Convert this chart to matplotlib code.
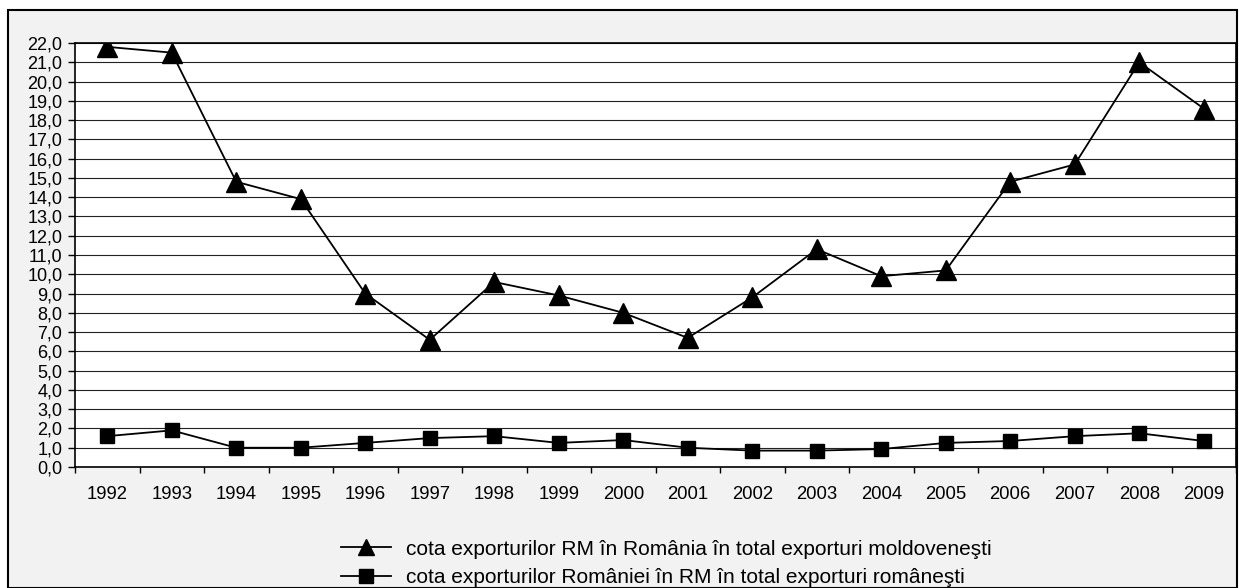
# -*- coding: utf-8 -*-
import matplotlib.pyplot as plt
from matplotlib.patches import Rectangle
from matplotlib.ticker import FuncFormatter
import numpy as np

ani = ['1992', '1993', '1994', '1995', '1996', '1997', '1998', '1999', '2000',
       '2001', '2002', '2003', '2004', '2005', '2006', '2007', '2008', '2009']
cota_rm = [21.8, 21.5, 14.8, 13.9, 9.0, 6.6, 9.6, 8.9, 8.0,
           6.7, 8.8, 11.3, 9.9, 10.2, 14.8, 15.7, 21.0, 18.6]
cota_ro = [1.6, 1.9, 1.0, 1.0, 1.25, 1.5, 1.6, 1.25, 1.4,
           1.0, 0.85, 0.85, 0.93, 1.25, 1.35, 1.6, 1.75, 1.35]
eticheta_rm = u'cota exporturilor RM în România în total exporturi moldoveneşti'
eticheta_ro = u'cota exporturilor României în RM în total exporturi româneşti'

plt.rcParams['font.family'] = ['Liberation Sans', 'DejaVu Sans']

W, H = 1239, 588
fig = plt.figure(figsize=(W / 100., H / 100.), dpi=100)
fig.patch.set_facecolor('white')

# fundal gri cu chenar
fig.patches.append(Rectangle((8. / W, 0), 1229. / W, 1 - 10. / H, transform=fig.transFigure,
                             facecolor='#f2f2f2', edgecolor='black', linewidth=1.5, zorder=-5))

ax = fig.add_axes([75. / W, 1 - 467. / H, 1161. / W, 424. / H])
ax.set_facecolor('white')

x = np.arange(len(ani))
l1, = ax.plot(x, cota_rm, c='black', lw=1.3, marker='^', markersize=14, label=eticheta_rm)
l2, = ax.plot(x, cota_ro, c='black', lw=1.3, marker='s', markersize=10.5, label=eticheta_ro)

ax.set_xlim(-0.5, len(ani) - 0.5)
ax.set_ylim(0, 22)
ax.set_yticks(np.arange(0, 23, 1))
ax.yaxis.set_major_formatter(FuncFormatter(lambda v, p: ('%.1f' % v).replace('.', ',')))
ax.set_xticks(x)
ax.set_xticklabels(ani)
ax.set_xticks(np.arange(-0.5, len(ani), 1), minor=True)
ax.tick_params(axis='x', which='major', length=0, pad=14, labelsize=13.3)
ax.tick_params(axis='x', which='minor', length=4.5, width=1, direction='out')
ax.tick_params(axis='y', length=5, width=1, pad=4, labelsize=13)
ax.yaxis.grid(True, color='#222222', linewidth=0.8)
ax.set_axisbelow(True)
for s in ax.spines.values():
    s.set_color('black')
    s.set_linewidth(1.2)

leg = fig.legend(handles=[l1, l2], loc='upper left', bbox_to_anchor=(322. / W, 1 - 521. / H),
                 frameon=False, fontsize=15, handlelength=2.4,
                 handletextpad=0.72, labelspacing=0.45)
leg.legend_handles[0].set_markersize(11)
leg.legend_handles[1].set_markersize(10)

plt.savefig('out.png', dpi=100)
plt.close(fig)
